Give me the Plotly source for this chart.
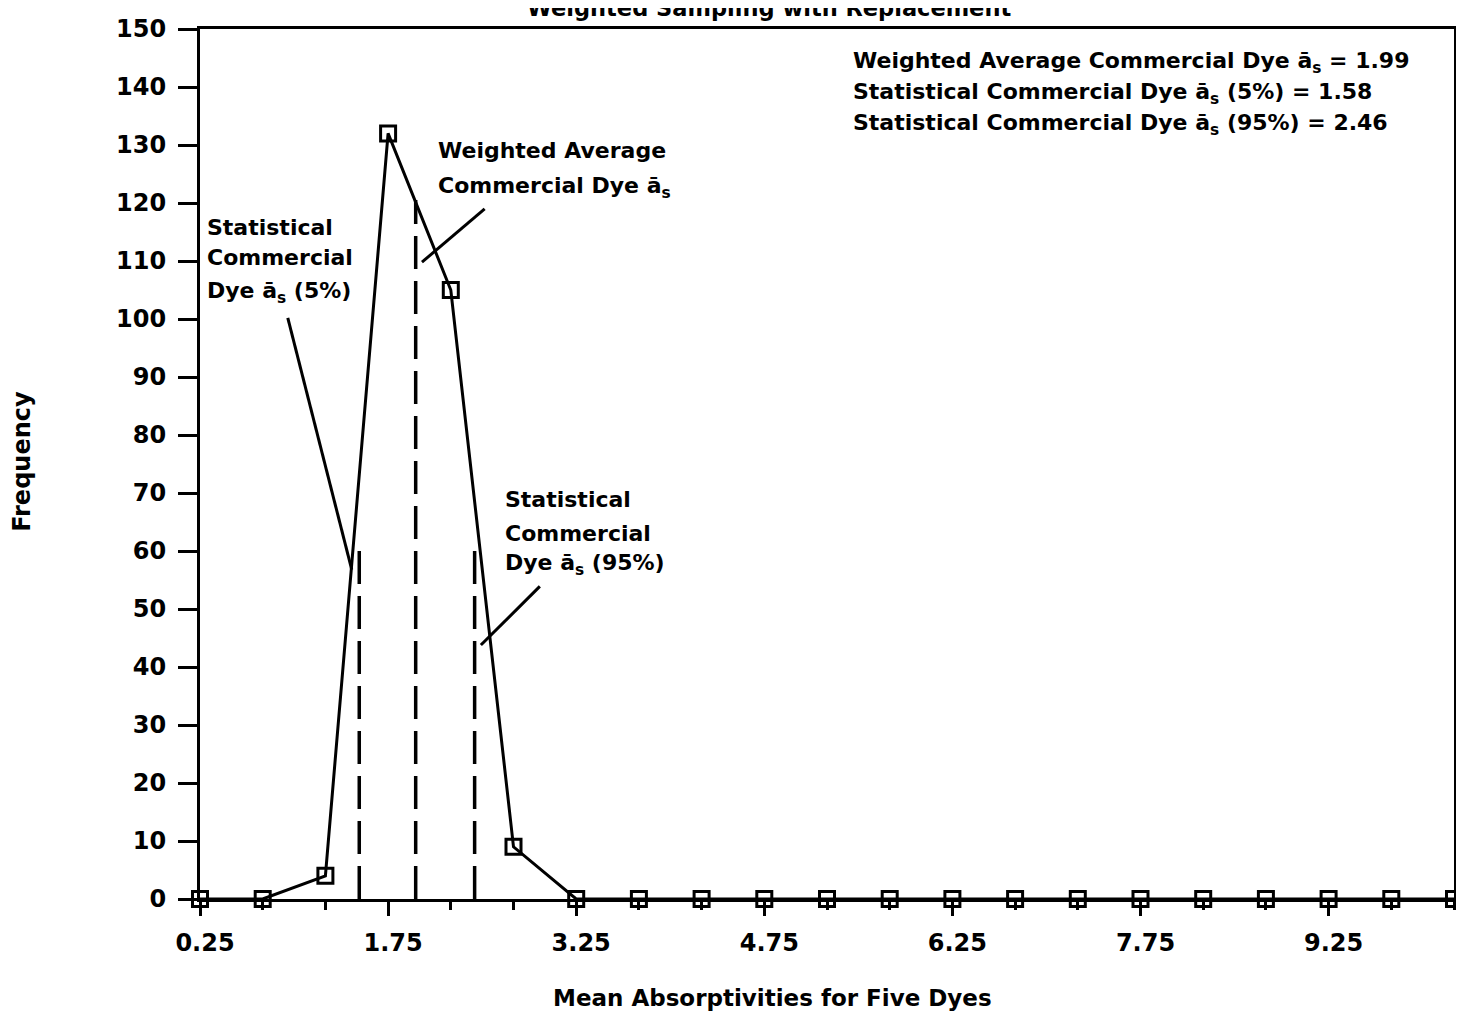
import plotly.graph_objects as go

# ---- data ----
absorptivity = [0.25, 0.75, 1.25, 1.75, 2.25, 2.75, 3.25, 3.75, 4.25, 4.75, 5.25,
                5.75, 6.25, 6.75, 7.25, 7.75, 8.25, 8.75, 9.25, 9.75, 10.25]
frequency = [0, 0, 4, 132, 105, 9, 0, 0, 0, 0, 0,
             0, 0, 0, 0, 0, 0, 0, 0, 0, 0]

# reference (dashed) lines: x position and height as drawn
ref_names = ["Statistical 5%", "Weighted Average", "Statistical 95%"]
ref_x = [1.52, 1.97, 2.44]
ref_top = [62, 120.5, 61.5]

# leader lines from labels to dashed lines (start, end)
leader_x = [[0.95, 1.46], [2.52, 2.02], [2.96, 2.49]]
leader_y = [[100.2, 56.8], [119.0, 109.8], [53.9, 43.8]]

x_tick_start = 0.25
x_tick_step = 1.5
y_tick_step = 10

AS = "\u0101<sub>s</sub>"
summary_lines = [
    f"Weighted Average Commercial Dye {AS} = 1.99",
    f"Statistical Commercial Dye {AS} (5%) = 1.58",
    f"Statistical Commercial Dye {AS} (95%) = 2.46",
]

FONT = "DejaVu Sans"
BLACK = "#000000"

fig = go.Figure()

# dashed reference lines
for name, xv, top in zip(ref_names, ref_x, ref_top):
    fig.add_trace(go.Scatter(
        x=[xv, xv], y=[0, top], mode="lines", name=name,
        line=dict(color=BLACK, width=3.5, dash="33px,12px"),
        hoverinfo="skip", showlegend=False))

# leader lines
for lx, ly in zip(leader_x, leader_y):
    fig.add_trace(go.Scatter(
        x=lx, y=ly, mode="lines",
        line=dict(color=BLACK, width=3),
        hoverinfo="skip", showlegend=False))

# frequency polygon
fig.add_trace(go.Scatter(
    x=absorptivity, y=frequency, mode="lines+markers",
    line=dict(color=BLACK, width=3),
    marker=dict(symbol="square-open", size=15, color=BLACK,
                line=dict(color=BLACK, width=3)),
    cliponaxis=False, showlegend=False))

ann_font = dict(family=FONT, size=22, color=BLACK, weight="bold")
annotations = []


def add_block(lines, x, ys):
    for t, y in zip(lines, ys):
        annotations.append(dict(
            text=t, x=x, y=y, xref="x", yref="y", xanchor="left",
            yanchor="middle", showarrow=False, font=ann_font))


add_block(summary_lines, 5.445, [144.3, 138.9, 133.5])
add_block(["Weighted Average", f"Commercial Dye {AS}"], 2.135, [129.0, 122.6])
add_block(["Statistical", "Commercial", f"Dye {AS} (5%)"], 0.29, [115.8, 110.6, 104.5])
add_block(["Statistical", "Commercial", f"Dye {AS} (95%)"], 2.67, [68.9, 63.1, 57.6])

annotations.append(dict(
    text="Weighted Sampling with Replacement", x=0.4535, y=1, xref="paper",
    yref="paper", xanchor="center", yanchor="bottom", yshift=6,
    showarrow=False, font=dict(family=FONT, size=22.5, color=BLACK, weight="bold")))
annotations.append(dict(
    text="Mean Absorptivities for Five Dyes", x=0.4566, y=0, xref="paper",
    yref="paper", xanchor="center", yanchor="middle", yshift=-99,
    showarrow=False, font=dict(family=FONT, size=23, color=BLACK, weight="bold")))
annotations.append(dict(
    text="Frequency", x=-0.1416, y=0.503, xref="paper", yref="paper",
    xanchor="center", yanchor="middle", textangle=-90,
    showarrow=False, font=dict(family=FONT, size=24, color=BLACK, weight="bold")))

fig.update_layout(
    width=1456, height=1007,
    margin=dict(l=192, r=7, t=14, b=116),
    paper_bgcolor="white", plot_bgcolor="white",
    font=dict(family=FONT, color=BLACK, weight="bold"),
    annotations=annotations,
    showlegend=False,
)

fig.update_xaxes(
    range=[0.25, 10.25], tick0=x_tick_start, dtick=x_tick_step,
    tickformat=".2f", ticks="outside", ticklen=14, tickwidth=3,
    tickcolor=BLACK, showline=True, linewidth=3, linecolor=BLACK,
    mirror=True, showgrid=False, zeroline=False,
    tickfont=dict(family=FONT, size=24, color=BLACK, weight="bold"),
    ticklabelstandoff=6, ticklabelshift=5,
    minor=dict(dtick=0.5, tick0=x_tick_start, ticks="outside", ticklen=8,
               tickwidth=3, tickcolor=BLACK, showgrid=False),
)
fig.update_yaxes(
    range=[0, 150], tick0=0, dtick=y_tick_step,
    ticks="outside", ticklen=19, tickwidth=3, tickcolor=BLACK,
    showline=True, linewidth=3, linecolor=BLACK, mirror=True,
    showgrid=False, zeroline=False,
    tickfont=dict(family=FONT, size=24, color=BLACK, weight="bold"),
    ticklabelstandoff=7,
)

fig.write_html("out.html")
